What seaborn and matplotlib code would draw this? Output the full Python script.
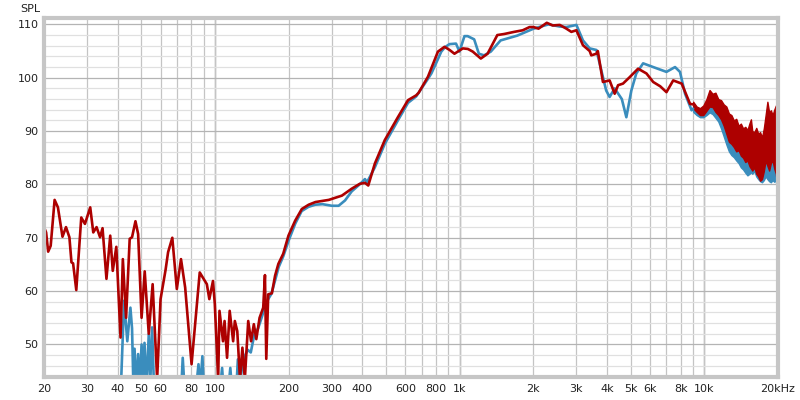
import numpy as np
import pandas as pd
import matplotlib
matplotlib.use('Agg')
import matplotlib.pyplot as plt
import seaborn as sns

# ── Data (frequency in Hz, SPL in dB) ───────────────────────────────────────
red_freq = [
    20.0, 20.4, 20.8, 21.3, 22.1, 22.8, 23.8, 24.6, 25.4, 25.9, 26.3, 27.1,
    28.4, 29.4, 30.9, 31.8, 32.8, 33.9, 34.7, 36.0, 37.3, 38.2, 39.5, 41.1,
    42.0, 43.3, 44.8, 45.8, 47.3, 48.5, 50.1, 51.6, 53.6, 55.6, 58.0, 59.9,
    62.8, 64.3, 66.9, 69.8, 72.6, 75.5, 80.2, 86.6, 92.6, 94.8, 98.1, 99.8,
    103, 104.3, 107.8, 109.4, 112, 114.8, 118.6, 120.5, 123.3, 126.5, 129.4,
    132.4, 136.7, 140.4, 144.1, 147.5, 152.1, 157.4, 160, 162, 165, 170.8,
    176, 181.5, 190, 199.6, 212.6, 226.4, 241.5, 257.4, 291.7, 330, 362, 390,
    410, 423, 450, 494, 559, 615, 664, 680, 742, 815, 867, 910, 952, 1030,
    1080, 1131, 1220, 1300, 1425, 1520, 1670, 1810, 1930, 2004, 2100, 2270,
    2400, 2565, 2730, 2860, 3000, 3100, 3190, 3400, 3450, 3620, 3670, 3850,
    4100, 4300, 4440, 4650, 4950, 5360, 5800, 6180, 6600, 7000, 7460, 8080,
    8740, 9000,
]
red_spl = [
    72.0, 71.0, 67.4, 68.5, 77.1, 75.7, 70.2, 72.0, 70.1, 65.4, 65.2, 60.2,
    73.8, 72.6, 75.7, 71.0, 72.0, 70.1, 71.8, 62.3, 70.4, 63.8, 68.3, 51.3,
    66.0, 55.0, 69.8, 70.1, 73.1, 70.7, 55.0, 63.7, 52.0, 61.3, 43.5, 58.5,
    64.0, 67.3, 70.0, 60.4, 66.0, 60.7, 46.3, 63.5, 61.3, 58.5, 61.9, 57.6,
    43.5, 56.3, 50.6, 54.4, 47.5, 56.3, 50.6, 54.4, 52.5, 43.5, 49.4,
    43.5, 54.4, 50.6, 53.8, 51.0, 55.0, 56.9, 63.0, 47.3, 59.4, 59.6,
    62.9, 65.1, 67.0, 70.4, 73.2, 75.4, 76.2, 76.7, 77.1, 77.9, 79.2, 80.1,
    80.3, 79.8, 83.9, 88.3, 92.6, 95.8, 96.7, 97.2, 100.2, 104.9, 105.8, 105.2, 104.5, 105.5,
    105.4, 104.9, 103.6, 104.5, 108.0, 108.2, 108.6, 108.9, 109.5, 109.5, 109.2, 110.3,
    109.8, 109.9, 109.2, 108.6, 108.9, 107.4, 106.1, 105.0, 104.2, 104.5, 105.0, 99.2,
    99.5, 97.0, 98.6, 98.9, 100.1, 101.7, 100.8, 99.2, 98.4, 97.3, 99.5, 98.9,
    95.1, 95.0,
]

blue_freq = [
    40.5, 41.4, 42.5, 43.8, 45.1, 45.8, 46.4, 46.9, 47.6, 48.5, 49.2, 50.1,
    50.8, 51.5, 52.5, 53.6, 54.4, 55.3, 56.5, 70, 72.5, 73.8, 75, 83, 85.6,
    87, 88.8, 90.5, 104, 106.9, 109, 113, 115.5, 118, 122, 124, 126, 130,
    136, 140, 145, 150, 155, 160, 165, 170, 176, 182, 190, 200, 213, 226,
    241, 257, 275, 300, 320, 340, 362, 390, 410, 418, 450, 494, 559, 615,
    664, 742, 766, 815, 841, 870, 908, 966, 998, 1046, 1078, 1146, 1198,
    1258, 1340, 1470, 1720, 2004, 2307, 2565, 2730, 3000, 3190, 3400, 3620,
    3970, 4100, 4300, 4600, 4800, 5030, 5270, 5620, 6180, 7000, 7590, 7950,
    8340, 8870, 9000,
]
blue_spl = [
    36.0, 44.0, 58.2, 50.6, 56.9, 53.0, 42.0, 49.2, 42.0, 48.2, 42.0, 50.0,
    43.0, 50.3, 42.0, 51.9, 43.0, 53.2, 40.0, 38.0, 40.0, 47.5, 42.0, 40.0, 46.3,
    42.0, 47.8, 40.0, 40.0, 45.6, 40.0, 41.0, 45.6, 40.0, 41.0, 47.2, 42.0, 47.0,
    49.0, 48.5, 52.0, 53.0, 55.0, 57.0, 58.5, 59.5, 62.0, 64.5, 66.5, 69.5, 72.7, 75.0,
    75.8, 76.2, 76.3, 76.0, 76.0, 77.0, 78.7, 80.0, 81.0, 80.4, 83.2, 87.6, 92.0, 95.3,
    96.5, 99.8, 100.8, 103.5, 104.9, 105.7, 106.3, 106.4, 104.9, 107.8, 107.8, 107.2, 104.5,
    104.2, 104.9, 107.0, 107.9, 109.2, 110.0, 109.6, 109.5, 109.9, 107.0, 105.5, 105.2,
    97.6, 96.4, 98.0, 96.0, 92.6, 97.6, 100.8, 102.7, 102.0, 101.1, 102.0, 101.1,
    97.0, 93.9, 94.2,
]

# the top end (9k-20k) is a dense noisy band: its upper / lower edges
hf_freq = [9000, 9300, 9600, 9900, 10200, 10500, 10800, 11100, 11400, 11700,
           12000, 12300, 12600, 12900, 13200, 13500, 13800, 14100, 14400, 14700,
           15000, 15300, 15500, 15700, 16000, 16300, 16600, 16900, 17200, 17500,
           17800, 18100, 18400, 18700, 19000, 19300, 19600, 19800, 19950, 20000]
red_hf_top = [95.5, 94.6, 94.3, 94.8, 96.0, 97.7, 97.0, 97.2, 96.0, 95.8,
              95.0, 94.6, 93.3, 93.0, 92.0, 92.3, 91.0, 91.4, 90.5, 90.8,
              90.2, 91.5, 92.2, 90.0, 89.8, 90.6, 89.5, 89.8, 88.8, 90.5,
              93.0, 95.5, 93.5, 93.9, 93.0, 94.0, 94.8, 92.0, 84.0, 74.0]
red_hf_bot = [94.3, 93.6, 93.0, 93.0, 93.8, 94.6, 94.5, 93.6, 93.0, 92.2,
              91.0, 89.5, 88.0, 87.6, 87.0, 86.2, 86.4, 85.4, 85.0, 84.2,
              84.5, 83.4, 83.0, 82.6, 83.2, 82.0, 81.5, 80.7, 81.0, 82.5,
              84.5, 83.5, 82.6, 84.0, 84.5, 83.0, 82.0, 80.0, 77.0, 72.5]
blue_hf_top = [94.8, 94.2, 94.0, 94.5, 95.5, 96.5, 96.0, 95.8, 95.0, 94.5,
               93.5, 92.5, 91.5, 91.0, 90.0, 89.5, 89.0, 88.8, 88.5, 88.5,
               88.8, 89.5, 90.0, 88.5, 88.0, 88.5, 88.0, 88.0, 87.5, 88.5,
               90.5, 92.5, 91.5, 92.0, 91.5, 92.0, 92.5, 90.0, 82.0, 73.0]
blue_hf_bot = [93.6, 93.0, 92.6, 92.6, 93.0, 93.5, 93.2, 92.5, 91.8, 90.5,
               89.0, 87.5, 86.2, 85.5, 85.1, 84.5, 84.0, 83.2, 82.8, 82.2,
               81.7, 82.0, 82.3, 82.0, 82.5, 81.5, 81.0, 80.6, 80.4, 80.8,
               81.5, 81.0, 80.6, 80.4, 80.8, 80.5, 80.8, 78.5, 74.0, 72.0]

x_ticks  = [20, 30, 40, 50, 60, 80, 100, 200, 300, 400, 600, 800,
            1000, 2000, 3000, 4000, 5000, 6000, 8000, 10000, 20000]
x_labels = ['20', '30', '40', '50', '60', '80', '100', '200', '300', '400',
            '600', '800', '1k', '2k', '3k', '4k', '5k', '6k', '8k', '10k', '20kHz']
y_ticks  = [50, 60, 70, 80, 90, 100, 110]

BLUE = '#3a8dbd'
RED  = '#ad0000'

# ── Figure ──────────────────────────────────────────────────────────────────
sns.set_style('white')
plt.rcParams['font.family'] = ['DejaVu Sans']

fig = plt.figure(figsize=(8, 4), dpi=100)
ax = fig.add_axes([0.055, 0.0575, 0.9175, 0.8975])

blue_df = pd.DataFrame({'freq': blue_freq, 'spl': blue_spl})
red_df  = pd.DataFrame({'freq': red_freq, 'spl': red_spl})

sns.lineplot(data=blue_df, x='freq', y='spl', ax=ax, color=BLUE,
             linewidth=1.9, estimator=None, sort=False)
ax.fill_between(hf_freq, blue_hf_bot, blue_hf_top, color=BLUE, linewidth=1.0,
                edgecolor=BLUE)
sns.lineplot(data=red_df, x='freq', y='spl', ax=ax, color=RED,
             linewidth=1.9, estimator=None, sort=False)
ax.fill_between(hf_freq, red_hf_bot, red_hf_top, color=RED, linewidth=1.0,
                edgecolor=RED)

ax.set_xscale('log')
ax.set_xlim(20, 20000)
ax.set_ylim(43.9, 111.2)

# grid: every integer multiple on x, every 2 dB on y
minor_x = [m * d for d in (10, 100, 1000, 10000) for m in range(1, 10)
           if 20 <= m * d <= 20000]
ax.set_xticks(minor_x, minor=True)
ax.set_xticks(x_ticks)
ax.set_xticklabels(x_labels)
ax.set_yticks(y_ticks)
ax.set_yticks(np.arange(44, 112, 2), minor=True)
ax.tick_params(which='both', length=0, labelsize=8, colors='#222222')
ax.tick_params(axis='x', pad=5)
ax.tick_params(axis='y', pad=4)

ax.grid(False)
ax.xaxis.grid(True, which='both', color='#c4c4c4', linewidth=0.9)
ax.yaxis.grid(True, which='minor', color='#e0e0e0', linewidth=0.9)
ax.yaxis.grid(True, which='major', color='#b4b4b4', linewidth=0.9)
for dec in (100, 1000, 10000):
    ax.axvline(dec, color='#7a7a7a', linewidth=0.9, zorder=0.5)
ax.set_axisbelow(True)

for sp in ax.spines.values():
    sp.set_color('#c6c6c6')
    sp.set_linewidth(3)

ax.set_xlabel('')
ax.set_ylabel('')
fig.text(0.0375, 0.978, 'SPL', fontsize=8, ha='center', va='center', color='#222222')

plt.savefig('out.png', dpi=100)
plt.close()
